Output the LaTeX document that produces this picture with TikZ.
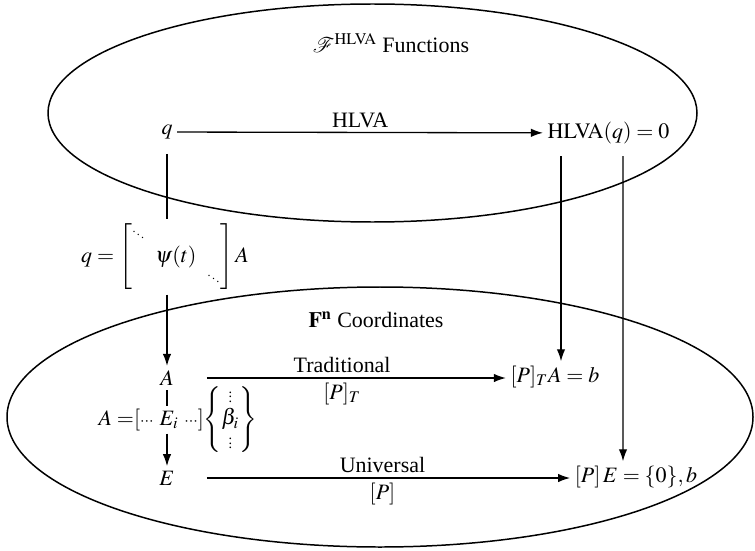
\documentclass[tikz,border=0pt]{standalone}
\usepackage{amsmath}
\usepackage{mathptmx}
\usepackage{mathrsfs}
\usepackage{fontspec}
\setmainfont{Liberation Serif}
\usetikzlibrary{positioning, arrows.meta}
\renewcommand{\arraystretch}{0.78}
\setlength{\arraycolsep}{3pt}
\newcommand{\sddots}{\scalebox{0.55}{$\ddots$}}
\newcommand{\svdots}{\scalebox{0.65}{$\vdots$}}

\begin{document}
\begin{tikzpicture}[
  font=\fontsize{12.5}{15}\selectfont,
  inner sep=2.5pt,
  ring/.style={draw, line width=0.85pt},
  ln/.style={line width=0.75pt},
  arr/.style={-{Latex[length=2.4mm, width=1.7mm]}, line width=0.75pt},
]
\useasboundingbox (0,0) rectangle (15.1,-11);
\draw[ring] (7.45,-2.26) ellipse [x radius=6.49, y radius=2.18];
\draw[ring] (7.6,-8.34) ellipse [x radius=7.46, y radius=2.6];

\node (fhead) at (7.82,-0.86) {$\mathscr{F}^{\mathrm{HLVA}}$ Functions};
\node (fnhead) at (7.52,-6.4) {$\mathbf{F}^{\mathbf{n}}$ Coordinates};

\node (q) at (3.34,-2.64) {$q$};
\node (hlva) at (12.17,-2.66) {$\mathrm{HLVA}(q) = 0$};
\draw[arr] (q) -- node[above] {HLVA} (hlva);

\node (qmat) at (3.3,-5.14) {$q = \begin{bmatrix} \sddots & & \\ & \psi(t) & \\ & & \sddots \end{bmatrix} A$};
\draw[ln, shorten <=0.2cm] (q.south) -- (q.south |- qmat.north);

\node (A) at (3.34,-7.56) {$A$};
\draw[arr] (q.south |- qmat.south) -- (A.north);

\node (ei) at (3.38,-8.4) {$E_i$};
\node[anchor=base east, inner xsep=0.5pt] (eil) at (ei.base west) {$A\;{=}[{\scriptstyle\cdots}$};
\node[anchor=base west, inner xsep=0.5pt] (eir) at (ei.base east) {${\scriptstyle\cdots}]\!\left\{\begin{array}{@{}c@{}}\svdots\\ \beta_i\\ \svdots\end{array}\right\}$};
\node (E) at (3.34,-9.56) {$E$};
\draw[ln] (A.south) -- (A.south |- ei.north);
\draw[arr] (A.south |- ei.south) -- (E.north);

\node (trad) at (11.1,-7.54) {$[P]_T A = b$};
\node (univ) at (12.72,-9.54) {$[P]\, E = \{0\}, b$};
\draw[arr, shorten <=0.57cm] (A.east) -- node[above] {Traditional} node[below] {$[P]_T$} (A.east -| trad.west);
\draw[arr, shorten <=0.55cm] (E.east) -- node[pos=0.52, above] {Universal} node[pos=0.52, below] {$[P]$} (E.east -| univ.west);

\draw[arr, shorten <=0.15cm] ([xshift=-0.95cm]hlva.south) -- ([xshift=0.12cm]trad.north);
\draw[arr, shorten <=0.15cm] ([xshift=0.29cm]hlva.south) -- ([xshift=-0.26cm]univ.north);
\end{tikzpicture}
\end{document}
